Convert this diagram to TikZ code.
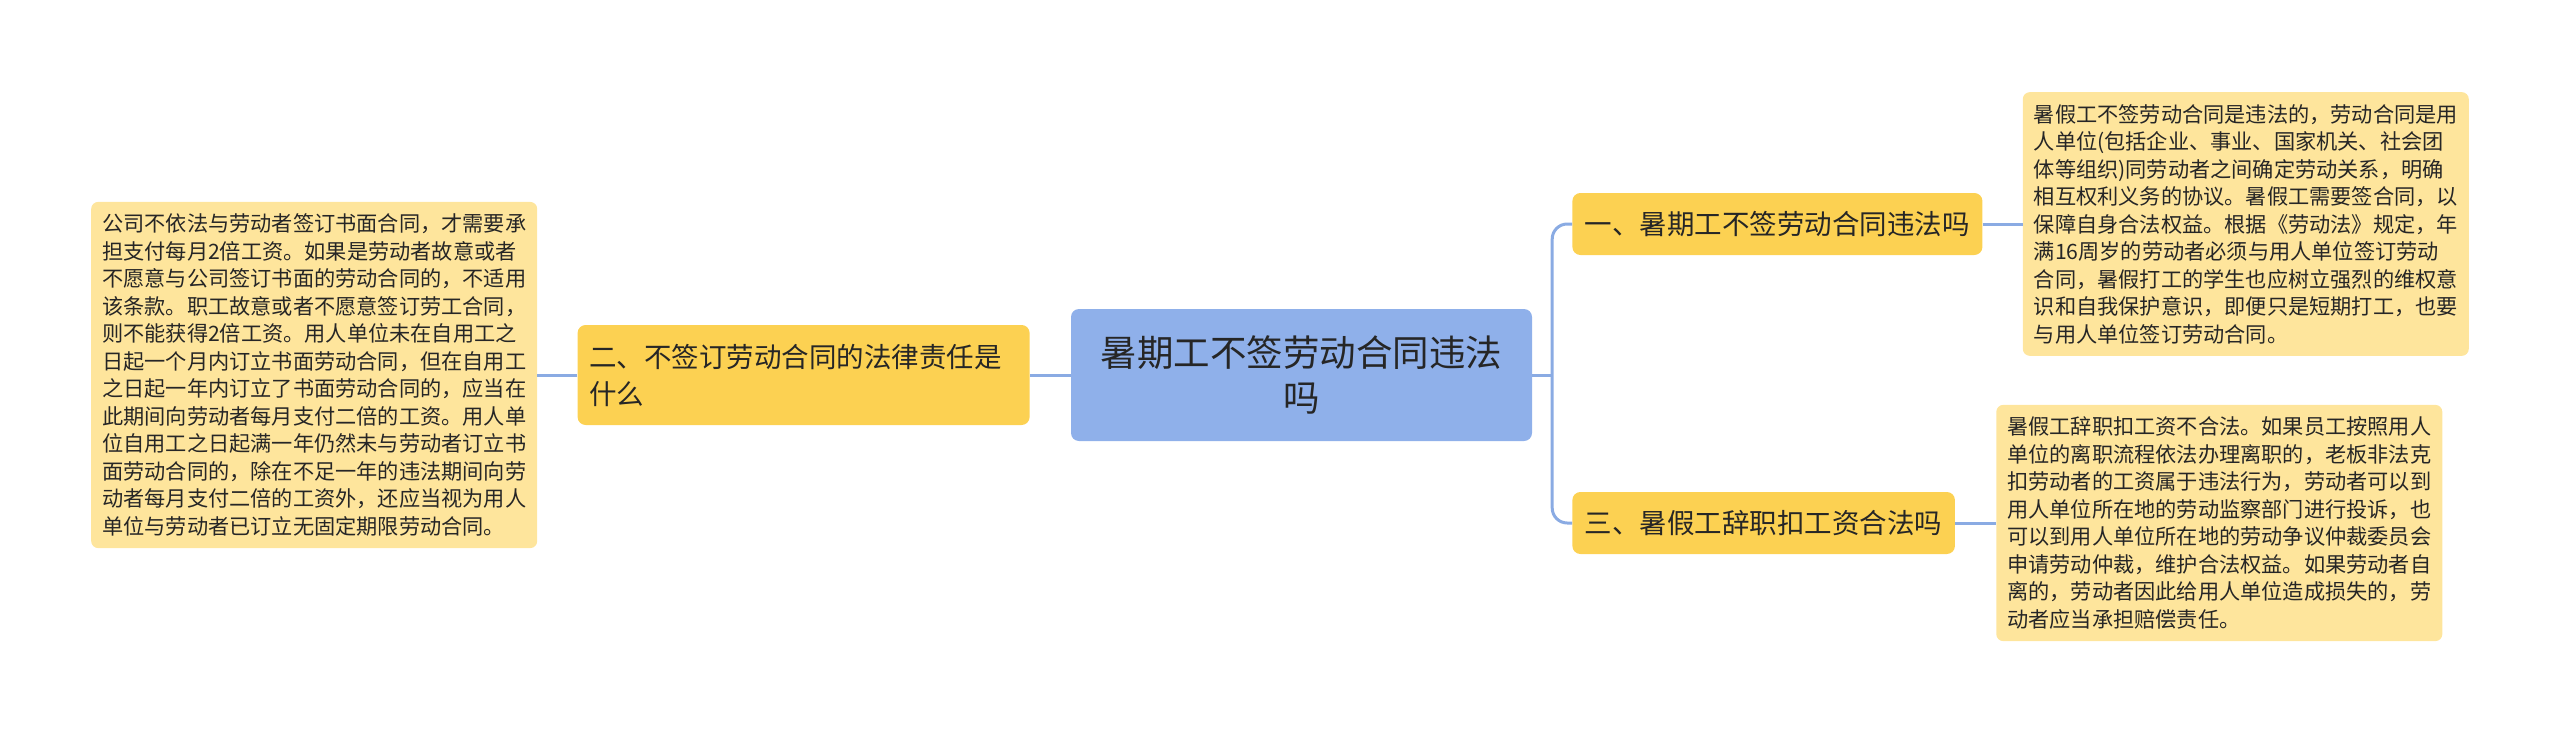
\documentclass[tikz,border=0pt]{standalone}
\usepackage{fontspec}
\setmainfont{Noto Sans CJK SC}
\usetikzlibrary{positioning}
\definecolor{rootblue}{HTML}{8FB0EA}
\definecolor{midyel}{HTML}{FCD152}
\definecolor{noteyel}{HTML}{FEE59C}
\definecolor{linkblue}{HTML}{8AABE3}
\definecolor{ink}{HTML}{262626}

\begin{document}
\begin{tikzpicture}[x=1pt,y=1pt,
  root/.style={fill=rootblue,rounded corners=8pt,align=center,text width=402pt,inner xsep=29.5pt,minimum height=132pt,text=ink,font=\fontsize{36.5}{45}\selectfont},
  mid/.style={fill=midyel,rounded corners=8pt,inner xsep=12.5pt,minimum height=62pt,text=ink,font=\fontsize{27.5}{37}\selectfont},
  note/.style={fill=noteyel,rounded corners=7pt,align=left,text width=424pt,inner xsep=11pt,inner ysep=12pt,text=ink,font=\fontsize{21.2}{27.5}\selectfont},
  link/.style={draw=linkblue,line width=3pt,rounded corners=15pt}]
\useasboundingbox (0,0) rectangle (2560,-736);
\node (root) [root] at (1301.5,-375) {暑期工不签劳动合同违法\\吗};
\node (n2) [mid,align=left,text width=429pt,inner xsep=11.5pt,minimum height=100pt,left=41pt of root] {二、不签订劳动合同的法律责任是\\什么};
\node (t2) [note,left=40pt of n2] {公司不依法与劳动者签订书面合同，才需要承\\担支付每月2倍工资。如果是劳动者故意或者\\不愿意与公司签订书面的劳动合同的，不适用\\该条款。职工故意或者不愿意签订劳工合同，\\则不能获得2倍工资。用人单位未在自用工之\\日起一个月内订立书面劳动合同，但在自用工\\之日起一年内订立了书面劳动合同的，应当在\\此期间向劳动者每月支付二倍的工资。用人单\\位自用工之日起满一年仍然未与劳动者订立书\\面劳动合同的，除在不足一年的违法期间向劳\\动者每月支付二倍的工资外，还应当视为用人\\单位与劳动者已订立无固定期限劳动合同。};
\node (r1) [mid,right=40pt of root.east,yshift=151pt] {一、暑期工不签劳动合同违法吗};
\node (r3) [mid,right=40pt of root.east,yshift=-148pt] {三、暑假工辞职扣工资合法吗};
\node (t1) [note,right=40pt of r1] {暑假工不签劳动合同是违法的，劳动合同是用\\人单位(包括企业、事业、国家机关、社会团\\体等组织)同劳动者之间确定劳动关系，明确\\相互权利义务的协议。暑假工需要签合同，以\\保障自身合法权益。根据《劳动法》规定，年\\满16周岁的劳动者必须与用人单位签订劳动\\合同，暑假打工的学生也应树立强烈的维权意\\识和自我保护意识，即便只是短期打工，也要\\与用人单位签订劳动合同。};
\node (t3) [note,right=41pt of r3] {暑假工辞职扣工资不合法。如果员工按照用人\\单位的离职流程依法办理离职的，老板非法克\\扣劳动者的工资属于违法行为，劳动者可以到\\用人单位所在地的劳动监察部门进行投诉，也\\可以到用人单位所在地的劳动争议仲裁委员会\\申请劳动仲裁，维护合法权益。如果劳动者自\\离的，劳动者因此给用人单位造成损失的，劳\\动者应当承担赔偿责任。};
\coordinate (jn) at ([xshift=20pt]root.east);
\draw[link] (root.east) -- (jn);
\draw[link] (r1.west) -| (jn) |- (r3.west);
\draw[link] (root) -- (n2);
\draw[link] (n2) -- (t2);
\draw[link] (r1) -- (t1);
\draw[link] (r3) -- (t3);
\end{tikzpicture}
\end{document}
